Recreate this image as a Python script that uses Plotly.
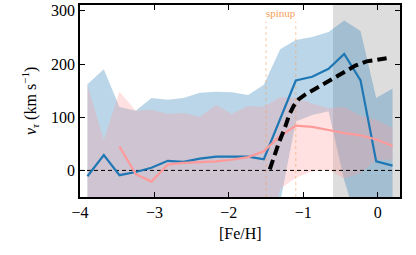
import plotly.graph_objects as go

# bin centres [Fe/H]
feh = [-3.90, -3.68, -3.47, -3.25, -3.04, -2.82, -2.61, -2.39, -2.17, -1.96,
       -1.74, -1.53, -1.31, -1.10, -0.88, -0.66, -0.45, -0.23, -0.02, 0.20]

# blue sample
blue_mid = [-11, 29, -9, -3, 5, 18, 16, 22, 26, 26,
            26, 21, 97, 169, 176, 191, 219, 169, 17, 9]
blue_hi = [162, 190, 119, 112, 136, 133, 136, 146, 148, 147,
           142, 161, 228, 245, 251, 260, 282, 262, 136, 154]
blue_lo = [-150, -150, -150, -150, -150, -150, -150, -150, -150, -150,
           -150, -150, -60, 92, 104, 111, -18, -120, -150, -150]

# pink sample (line only from -3.47)
pink_x = feh[2:]
pink_mid = [45, -7, -21, 11, 14, 15, 17, 20, 25, 36,
            65, 84, 82, 76, 70, 66, 58, 46]
pink_hi = [160, 57, 148, 112, 114, 106, 108, 101, 123, 106,
           121, 119, 138, 136, 126, 117, 119, 103, 95, 80]
pink_lo = [-150, -150, -150, -45, -150, -150, -150, -150, -150, -150,
           -150, -150, -35, -14, -2, 1, -15, -5, 20, 20]

# model curve (black dashed)
model_x = [-1.45, -1.40, -1.33, -1.24, -1.19, -1.13, -1.06, -0.97, -0.86,
           -0.75, -0.65, -0.55, -0.43, -0.30, -0.15, 0.00, 0.12]
model_y = [2, 25, 51, 83, 104, 121, 134, 143, 152,
           161, 168, 176, 186, 197, 205, 209, 211]

xticks = [-4, -3, -2, -1, 0]
yticks = [0, 100, 200, 300]
spinup_lines = [-1.5, -1.1]
grey_span = [-0.6, 0.3]

BLUE = '#1f77b4'
PINK = '#ff9a9a'
ORANGE = '#f5a05a'
SERIF = 'Liberation Serif, DejaVu Serif, serif'

fig = go.Figure()

fig.add_trace(go.Scatter(
    x=feh + feh[::-1], y=blue_hi + blue_lo[::-1], fill='toself',
    fillcolor='rgba(31,119,180,0.3)', line=dict(width=0), mode='lines',
    hoverinfo='skip', showlegend=False))
fig.add_trace(go.Scatter(
    x=feh + feh[::-1], y=pink_hi + pink_lo[::-1], fill='toself',
    fillcolor='rgba(255,154,154,0.3)', line=dict(width=0), mode='lines',
    hoverinfo='skip', showlegend=False))

fig.add_trace(go.Scatter(x=[-4, 0.3], y=[0, 0], mode='lines',
                         line=dict(color='black', width=1, dash='4px,3px'),
                         showlegend=False))

for xv in spinup_lines:
    fig.add_trace(go.Scatter(x=[xv, xv], y=[-50, 280], mode='lines',
                             line=dict(color='rgba(245,160,90,0.55)', width=1, dash='dot'),
                             showlegend=False))

fig.add_trace(go.Scatter(x=feh, y=blue_mid, mode='lines',
                         line=dict(color=BLUE, width=2.2), showlegend=False))
fig.add_trace(go.Scatter(x=pink_x, y=pink_mid, mode='lines',
                         line=dict(color=PINK, width=2.2), showlegend=False))
fig.add_trace(go.Scatter(x=model_x, y=model_y, mode='lines',
                         line=dict(color='black', width=4, dash='10px,5px'),
                         showlegend=False))

fig.add_shape(type='rect', xref='x', yref='paper', x0=grey_span[0], x1=grey_span[1],
              y0=0, y1=1, fillcolor='#dddddd', line=dict(width=0), layer='below')

fig.add_annotation(x=-1.3, y=296, text='spinup', showarrow=False,
                   font=dict(family=SERIF, size=11, color=ORANGE))

# axis titles
fig.add_annotation(x=0.5, y=0, xref='paper', yref='paper', text='[Fe/H]',
                   showarrow=False, xanchor='center', yanchor='middle', yshift=-36,
                   font=dict(family=SERIF, size=16, color='black'))
fig.add_annotation(x=0, y=0.5, xref='paper', yref='paper',
                   text='<i>v</i><sub><i>τ</i></sub> (km s<sup>−1</sup>)',
                   textangle=-90, showarrow=False, xanchor='center', yanchor='middle',
                   xshift=-50, font=dict(family=SERIF, size=16, color='black'))

axis_common = dict(showline=True, linecolor='black', linewidth=1.5, mirror='ticks',
                   ticks='inside', ticklen=5, tickwidth=1.3, tickcolor='black',
                   showgrid=False, zeroline=False, automargin=False,
                   tickfont=dict(family=SERIF, size=16, color='black'))

fig.update_xaxes(range=[-4, 0.3], tickvals=xticks, **axis_common)
fig.update_yaxes(range=[-50, 311], tickvals=yticks, **axis_common)

fig.update_layout(width=416, height=255, margin=dict(l=80, r=16, t=5, b=58),
                  plot_bgcolor='white', paper_bgcolor='white')

fig.write_html('out.html', config={'displayModeBar': False},
               post_script="document.body.style.margin='0';document.body.style.padding='0';")
